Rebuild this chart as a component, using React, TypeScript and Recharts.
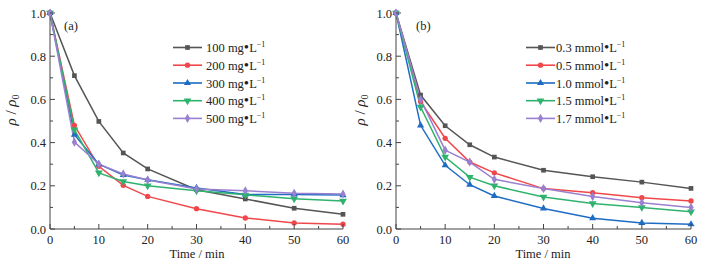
import React from "react";
import { LineChart, Line, XAxis, YAxis, Customized, Symbols } from "recharts";

const TIMES = [0, 5, 10, 15, 20, 30, 40, 50, 60];

// panel (a) - dosage in mg/L
const A_NAMES = ["100", "200", "300", "400", "500"];
const A_100 = [1.0, 0.71, 0.498, 0.352, 0.278, 0.182, 0.139, 0.096, 0.068];
const A_200 = [1.0, 0.48, 0.29, 0.202, 0.151, 0.094, 0.051, 0.028, 0.022];
const A_300 = [1.0, 0.437, 0.3, 0.25, 0.228, 0.19, 0.16, 0.16, 0.157];
const A_400 = [1.0, 0.46, 0.26, 0.22, 0.2, 0.177, 0.158, 0.14, 0.13];
const A_500 = [1.0, 0.402, 0.3, 0.255, 0.227, 0.185, 0.177, 0.165, 0.162];

// panel (b) - concentration in mmol/L
const B_NAMES = ["0.3", "0.5", "1.0", "1.5", "1.7"];
const B_03 = [1.0, 0.62, 0.478, 0.39, 0.333, 0.272, 0.242, 0.217, 0.188];
const B_05 = [1.0, 0.59, 0.42, 0.31, 0.26, 0.187, 0.168, 0.145, 0.13];
const B_10 = [1.0, 0.48, 0.295, 0.205, 0.153, 0.095, 0.05, 0.028, 0.022];
const B_15 = [1.0, 0.565, 0.333, 0.24, 0.2, 0.148, 0.118, 0.1, 0.08];
const B_17 = [1.0, 0.6, 0.365, 0.31, 0.23, 0.187, 0.15, 0.122, 0.1];

const X_TICKS = [0, 5, 10, 15, 20, 25, 30, 35, 40, 45, 50, 55, 60];
const Y_TICKS = [0, 0.1, 0.2, 0.3, 0.4, 0.5, 0.6, 0.7, 0.8, 0.9, 1.0];

const COLORS = ["#555555", "#f0474a", "#1f6cc4", "#2fb26e", "#9a80d0"];
const SHAPES = ["square", "circle", "triangle", "triangleDown", "diamond"];
const FONT = "Liberation Serif, serif";
const TXT = { fontFamily: FONT, fontSize: 12.5 };
const AXIS = "#444";

const toRows = (series: number[][]) =>
  TIMES.map((t, i) => {
    const row: Record<string, number> = { t };
    series.forEach((s, k) => (row["s" + k] = s[i]));
    return row;
  });

const dataA = toRows([A_100, A_200, A_300, A_400, A_500]);
const dataB = toRows([B_03, B_05, B_10, B_15, B_17]);

function Marker({ cx, cy, k }: { cx: number; cy: number; k: number }) {
  const shape = SHAPES[k];
  if (shape === "triangleDown") {
    return (
      <g transform={`rotate(180 ${cx} ${cy})`}>
        <Symbols cx={cx} cy={cy} type="triangle" size={26} fill={COLORS[k]} />
      </g>
    );
  }
  return <Symbols cx={cx} cy={cy} type={shape as any} size={shape === "diamond" ? 24 : 22} fill={COLORS[k]} />;
}

const XTick = (props: any) => {
  const { x, y, payload } = props;
  const major = payload.value % 10 === 0;
  return (
    <g>
      <line x1={x} x2={x} y1={y} y2={y - (major ? 5 : 3)} stroke={AXIS} />
      {major && (
        <text x={x} y={y + 15} textAnchor="middle" style={TXT} fill="#222">
          {payload.value}
        </text>
      )}
    </g>
  );
};

const YTick = (props: any) => {
  const { x, y, payload } = props;
  const major = Math.round(payload.value * 10) % 2 === 0;
  return (
    <g>
      <line x1={x} x2={x + (major ? 5 : 3)} y1={y} y2={y} stroke={AXIS} />
      {major && (
        <text x={x - 4} y={y + 4.5} textAnchor="end" style={TXT} fill="#222">
          {payload.value.toFixed(1)}
        </text>
      )}
    </g>
  );
};

function Decor({ tag, names, unit, lx, tx, ytx, xCenter }: any) {
  const rows = [47.5, 65.2, 83, 100.7, 118.4];
  return (
    <g fill="#222">
      <text x={tag.x} y={30} style={TXT}>{tag.label}</text>
      {names.map((n: string, k: number) => (
        <g key={n}>
          <line x1={lx} x2={lx + 29} y1={rows[k]} y2={rows[k]} stroke={COLORS[k]} strokeWidth={1.6} />
          <Marker cx={lx + 14.5} cy={rows[k]} k={k} />
          <text x={tx} y={rows[k] + 4.5} style={TXT}>
            {n} {unit}<tspan style={{ fontSize: 15 }}>•</tspan>L<tspan style={{ fontSize: 8 }} dy={-5}>−1</tspan>
          </text>
        </g>
      ))}
      <text transform={`translate(${ytx} 110) rotate(-90)`} textAnchor="middle" style={{ fontFamily: FONT, fontSize: 15 }}>
        <tspan fontStyle="italic">ρ</tspan> / <tspan fontStyle="italic">ρ</tspan>
        <tspan style={{ fontSize: 10 }} dy={3}>0</tspan>
      </text>
      <text x={xCenter} y={258} textAnchor="middle" style={TXT}>Time / min</text>
    </g>
  );
}

function Panel({ data, margin, decor }: any) {
  return (
    <LineChart width={353} height={266} data={data} margin={margin}>
      <XAxis
        dataKey="t"
        type="number"
        domain={[0, 60]}
        ticks={X_TICKS}
        interval={0}
        tick={<XTick />}
        tickSize={0}
        tickMargin={0}
        tickLine={false}
        axisLine={{ stroke: AXIS }}
        height={30}
      />
      <XAxis xAxisId="top" orientation="top" dataKey="t" type="number" domain={[0, 60]} tick={false} tickLine={false} axisLine={{ stroke: AXIS }} height={0} />
      <YAxis
        type="number"
        domain={[0, 1]}
        ticks={Y_TICKS}
        interval={0}
        tick={<YTick />}
        tickSize={0}
        tickMargin={0}
        tickLine={false}
        axisLine={{ stroke: AXIS }}
        width={margin.yw}
      />
      <YAxis yAxisId="right" orientation="right" domain={[0, 1]} tick={false} tickLine={false} axisLine={{ stroke: AXIS }} width={0} />
      {[0, 1, 2, 3, 4].map((k) => (
        <Line
          key={k}
          dataKey={"s" + k}
          stroke={COLORS[k]}
          strokeWidth={1.5}
          isAnimationActive={false}
          dot={(p: any) => <Marker key={p.index} cx={p.cx} cy={p.cy} k={k} />}
          activeDot={false}
        />
      ))}
      <Customized component={decor} />
    </LineChart>
  );
}

export default function App() {
  return (
    <div style={{ position: "absolute", left: 0, top: 0, width: 706, height: 266, background: "#fff", display: "flex" }}>
      <Panel
        data={dataA}
        margin={{ top: 13, right: 10, left: 0, bottom: 7, yw: 50 }}
        decor={<Decor tag={{ x: 64, label: "(a)" }} names={A_NAMES} unit="mg" lx={173} tx={206} ytx={16} xCenter={197} />}
      />
      <Panel
        data={dataB}
        margin={{ top: 13, right: 15, left: 0, bottom: 7, yw: 43 }}
        decor={<Decor tag={{ x: 63, label: "(b)" }} names={B_NAMES} unit="mmol" lx={173} tx={203} ytx={12} xCenter={190} />}
      />
    </div>
  );
}
